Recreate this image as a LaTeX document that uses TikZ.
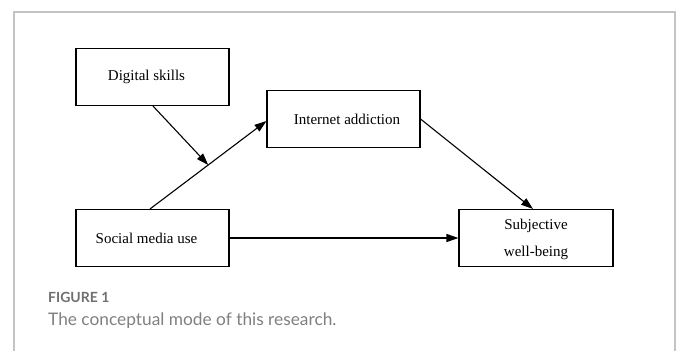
\documentclass[tikz,border=0pt]{standalone}
\usepackage{fontspec}
\setmainfont{Liberation Serif}
\newfontfamily\capfont{Lato}
\usetikzlibrary{arrows.meta,calc}
\definecolor{framegray}{HTML}{C4C4C4}
\definecolor{capgray}{HTML}{707070}
\definecolor{capgraylight}{HTML}{808080}
\tikzset{
  boxnode/.style={draw=black, line width=1.1bp, minimum width=153bp, minimum height=57bp, inner sep=0pt,
    font=\fontsize{15bp}{27bp}\selectfont, align=center},
  conn/.style={draw=black, line width=1.1bp, -{Triangle[length=12bp,width=8bp]}},
  plain/.style={draw=black, line width=1.1bp}
}
\begin{document}
\begin{tikzpicture}[x=1bp,y=-1bp]
\useasboundingbox (0,0) rectangle (681,351);
\fill[white] (0,0) rectangle (681,351);
\draw[framegray, line width=1.5bp] (14,351) -- (14,12) -- (675,12) -- (675,351);

\node[boxnode] (ds) at (152.5,77) {\hspace*{-12bp}\raisebox{-3bp}{Digital skills}};
\node[boxnode] (ia) at (343.5,119) {\hspace*{7bp}\raisebox{-3bp}{Internet addiction}};
\node[boxnode] (sm) at (152.5,238) {\hspace*{-12bp}\raisebox{-3bp}{Social media use}};
\node[boxnode, minimum width=154bp] (sw) at (536,238) {\raisebox{-3bp}{\begin{tabular}{@{}c@{}}Subjective\\well-being\end{tabular}}};

\coordinate (smtop) at ([xshift=-2.5bp]sm.north);
\coordinate (iain) at ([yshift=-2bp]ia.west);
\draw[conn] (smtop) -- (iain) coordinate[pos=0.5] (mid);
\draw[conn] ([xshift=0.5bp]ds.south) -- (mid);
\draw[conn] (ia.east) -- ([xshift=-3bp]sw.north);
\draw[conn] (sm.east) -- (sw.west);

\node[anchor=base west, inner sep=0pt, text=capgray, font=\capfont\bfseries\fontsize{14bp}{16bp}\selectfont] (fig) at (48,302.7) {FIGURE 1};
\node[anchor=base west, inner sep=0pt, text=capgraylight, font=\capfont\fontsize{17.3bp}{20bp}\selectfont] (cap) at (48,325.5) {The conceptual mode of this research.};
\end{tikzpicture}
\end{document}
